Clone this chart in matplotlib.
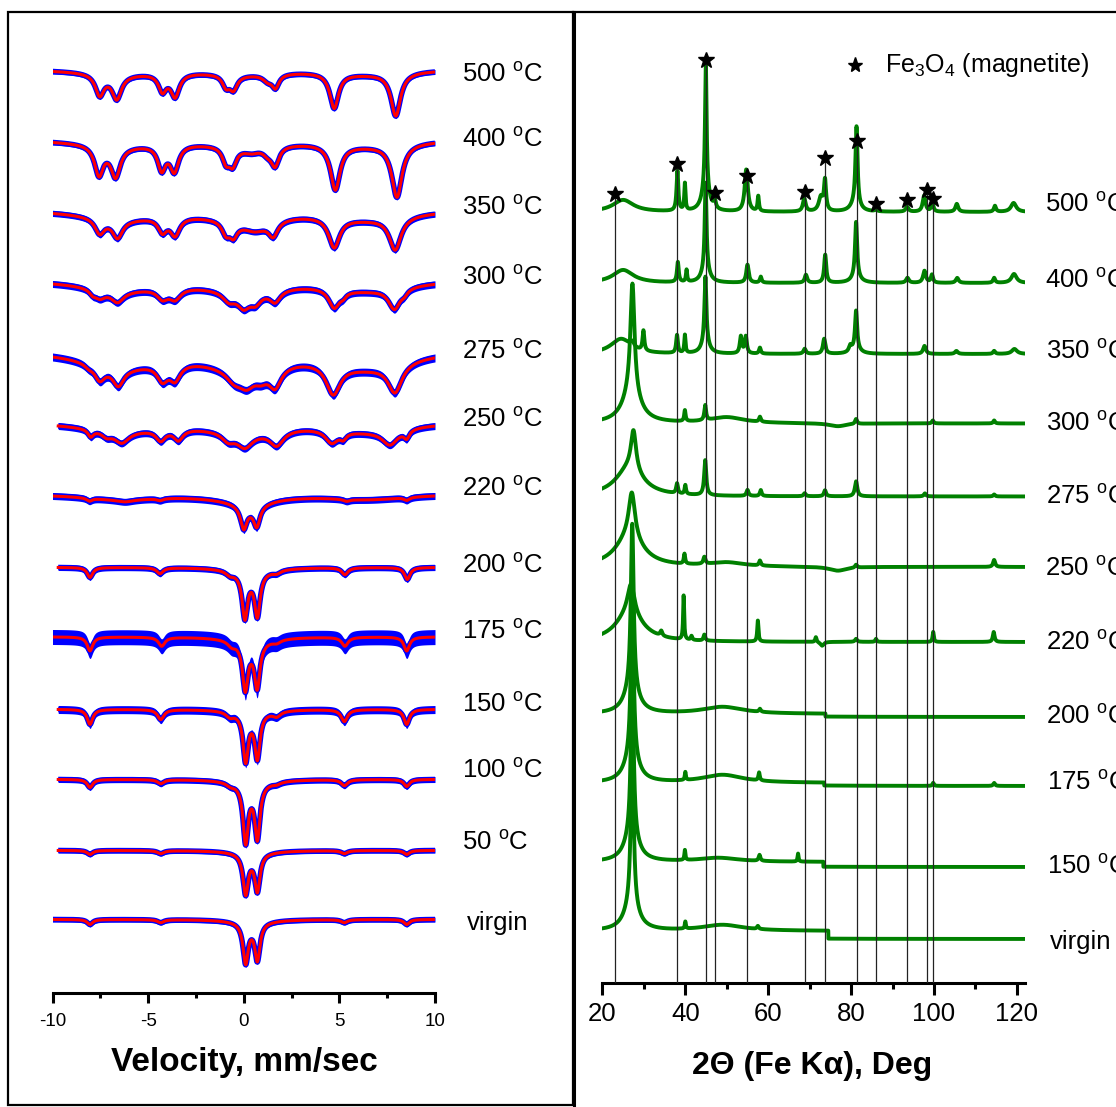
import numpy as np
import matplotlib
matplotlib.use('Agg')
import matplotlib.pyplot as plt
from matplotlib.lines import Line2D
from matplotlib.patches import Rectangle

plt.rcParams['font.family'] = ['Liberation Sans', 'DejaVu Sans']
plt.rcParams['mathtext.fontset'] = 'custom'
plt.rcParams['mathtext.rm'] = 'Liberation Sans'
plt.rcParams['mathtext.it'] = 'Liberation Sans:italic'
plt.rcParams['mathtext.bf'] = 'Liberation Sans:bold'

# ---------------- Mossbauer spectra (left) ----------------
# each line: (velocity mm/s, absorption depth, FWHM mm/s)
ms_500 = [(-7.53, 21, 0.55), (-6.64, 24, 0.6), (-4.25, 17, 0.5), (-3.59, 23, 0.55),
          (-0.93, 11, 0.45), (-0.54, 14, 0.5), (1.25, 6, 0.6), (1.66, 13, 0.45),
          (4.73, 35, 0.55), (7.95, 43, 0.6)]
ms_400 = [(-7.57, 29, 0.55), (-6.70, 30, 0.6), (-4.29, 24, 0.5), (-3.63, 26, 0.55),
          (-0.93, 14, 0.45), (-0.58, 17, 0.5), (0.4, 5, 1.0), (1.25, 6, 0.6),
          (1.64, 19, 0.5), (4.79, 45, 0.6), (8.01, 53, 0.65)]
ms_350 = [(-7.53, 15, 0.6), (-6.6, 18, 0.65), (-4.25, 14, 0.55), (-3.59, 18, 0.6),
          (-0.93, 12, 0.5), (-0.54, 13, 0.5), (0.6, 10, 1.6), (1.54, 15, 0.6),
          (4.73, 30, 0.7), (7.92, 33, 0.75)]
ms_300 = [(-7.9, 4, 0.4), (-7.53, 8, 0.7), (-6.6, 11, 0.8), (-4.25, 10, 0.7),
          (-3.59, 11, 0.75), (-0.77, 9, 0.8), (0.0, 14, 0.8), (0.62, 10, 0.7),
          (1.64, 12, 0.7), (4.73, 19, 0.7), (5.2, 4, 0.4), (7.88, 21, 0.75), (8.4, 4, 0.4)]
ms_275 = [(-8.1, 3, 0.5), (-7.53, 14, 0.65), (-6.56, 17, 0.7), (-4.25, 16, 0.7),
          (-3.59, 16, 0.7), (-0.5, 10, 1.0), (0.15, 14, 1.0), (0.9, 8, 0.8),
          (1.64, 20, 0.8), (4.68, 30, 0.9), (7.91, 29, 0.9)]
ms_250 = [(-8.0, 7, 0.35), (-7.17, 5, 0.6), (-6.38, 11, 0.9), (-4.34, 11, 0.6),
          (-3.42, 11, 0.6), (-0.81, 8, 0.8), (0.06, 14, 1.0), (1.72, 15, 0.9),
          (4.6, 13, 0.8), (5.2, 6, 0.4), (7.65, 15, 1.0), (8.52, 8, 0.35)]
ms_220 = [(-8.07, 3, 0.35), (-6.2, 2, 1.0), (-4.38, 2, 0.4), (0.0, 22, 0.4),
          (0.68, 20, 0.4), (0.35, 7, 2.0), (5.38, 2, 0.4), (8.52, 3, 0.35)]
ms_200 = [(-8.04, 10, 0.35), (-4.38, 6, 0.4), (-0.72, 4, 0.5), (0.06, 45, 0.35),
          (0.71, 43, 0.35), (0.38, 5, 2.5), (1.72, 3, 0.5), (5.29, 7, 0.4), (8.55, 12, 0.35)]
ms_175 = [(-8.04, 14, 0.35), (-4.29, 9, 0.4), (-0.63, 5, 0.5), (0.08, 47, 0.35),
          (0.7, 45, 0.35), (0.38, 5, 2.5), (1.72, 3, 0.5), (5.29, 9, 0.4), (8.52, 14, 0.35)]
ms_150 = [(-8.04, 15, 0.35), (-4.34, 10, 0.4), (-0.72, 5, 0.5), (0.1, 48, 0.33),
          (0.71, 45, 0.33), (0.4, 3, 2.5), (1.72, 5, 0.5), (5.26, 12, 0.4), (8.52, 15, 0.35)]
ms_100 = [(-8.04, 8, 0.35), (-4.34, 4, 0.4), (-0.7, 3, 0.5), (0.1, 58, 0.33),
          (0.71, 54, 0.33), (0.4, 4, 2.5), (1.72, 2, 0.5), (5.26, 6, 0.4), (8.52, 7, 0.35)]
ms_50 = [(-8.04, 4, 0.35), (-4.34, 3, 0.4), (0.1, 40, 0.33), (0.71, 37, 0.33),
         (0.4, 3, 2.5), (5.26, 3, 0.4), (8.52, 4, 0.35)]
ms_virgin = [(-8.04, 5, 0.35), (-4.34, 3, 0.4), (0.1, 40, 0.33), (0.71, 37, 0.33),
             (0.4, 3, 2.5), (5.26, 3, 0.4), (8.52, 5, 0.35)]
ms_broad_bg = [4, 5, 8, 9, 15, 8, 5, 0, 0, 0, 0, 0, 0]   # broad relaxation background depth
ms_v_start = [-10, -10, -10, -10, -10, -9.7, -10, -9.7, -10, -9.7, -9.7, -9.7, -10]
ms_labels = ['500 $^{\\rm o}$C', '400 $^{\\rm o}$C', '350 $^{\\rm o}$C', '300 $^{\\rm o}$C',
             '275 $^{\\rm o}$C', '250 $^{\\rm o}$C', '220 $^{\\rm o}$C', '200 $^{\\rm o}$C',
             '175 $^{\\rm o}$C', '150 $^{\\rm o}$C', '100 $^{\\rm o}$C', '50 $^{\\rm o}$C', 'virgin']
ms_ticks = [-10, -5, 0, 5, 10]

# ---------------- XRD patterns (right) ----------------
# each peak: (2theta deg, intensity, FWHM deg)
xrd_500 = [(25, 12, 6), (38.1, 40, 0.5), (39.9, 27, 0.35), (44.95, 123, 0.45), (44.9, 25, 2.0),
           (47.1, 8, 0.6), (54.7, 42, 0.9), (57.6, 15, 0.4), (68.7, 13, 0.8), (72.7, 14, 1.2),
           (73.7, 30, 0.6), (81.3, 78, 0.6), (81.0, 8, 2.5), (86.0, 2, 0.6), (93.5, 5, 0.8),
           (97.6, 16, 0.8), (99.6, 9, 0.6), (105.5, 8, 0.8), (114.7, 6, 0.6), (119.2, 9, 1.5)]
xrd_400 = [(25, 13, 6), (38.2, 20, 0.5), (40.3, 12, 0.35), (44.9, 85, 0.5), (44.9, 15, 2.0),
           (55.0, 18, 0.7), (58.2, 6, 0.5), (69.1, 8, 0.7), (73.75, 28, 0.6), (81.2, 55, 0.6),
           (81.2, 6, 2.5), (93.6, 5, 0.8), (97.7, 12, 0.8), (99.5, 8, 0.6), (105.6, 5, 0.8),
           (114.5, 5, 0.6), (119.3, 9, 1.5)]
xrd_350 = [(24.5, 15, 6), (27.2, 5, 1.0), (29.9, 20, 0.5), (38.0, 18, 0.5), (39.9, 18, 0.35),
           (44.85, 65, 0.55), (44.85, 12, 2.0), (53.4, 17, 0.6), (54.6, 17, 0.6), (58.0, 6, 0.5),
           (68.8, 5, 0.7), (73.5, 15, 0.7), (79.8, 6, 0.8), (81.2, 38, 0.6), (81.2, 5, 2.5),
           (97.7, 8, 0.8), (105.4, 3, 0.8), (114.5, 3, 0.6), (119.4, 5, 1.5)]
xrd_300 = [(27.25, 110, 1.2), (27.0, 30, 5.0), (39.9, 11, 0.4), (44.8, 15, 0.5), (50, 6, 10),
           (58.0, 5, 0.5), (76.8, -3, 5), (81.2, 5, 0.6), (99.7, 3, 0.5), (114.5, 3, 0.5)]
xrd_275 = [(27.5, 40, 1.5), (26.5, 28, 8), (38.0, 10, 0.5), (40.0, 9, 0.4), (44.8, 35, 0.6),
           (55.0, 6, 0.6), (58.2, 6, 0.5), (68.8, 3, 0.6), (73.7, 6, 0.6), (81.2, 15, 0.7),
           (97.8, 3, 0.6), (114.5, 2, 0.5)]
xrd_250 = [(27.1, 45, 1.8), (26.5, 30, 8), (39.8, 10, 0.4), (44.6, 7, 0.6), (50, 4, 10),
           (58.0, 5, 0.5), (76.8, -4, 5), (81.2, 3, 0.6), (114.5, 7, 0.6)]
xrd_220 = [(26.9, 30, 2.0), (26.5, 28, 8), (34.2, 5, 0.6), (39.6, 44, 0.3), (41.5, 4, 0.4),
           (44.6, 6, 0.5), (57.5, 21, 0.35), (71.5, 5, 0.4), (73.0, -4, 1.0), (81.2, 3, 0.6),
           (86.0, 3, 0.4), (99.8, 10, 0.35), (114.4, 10, 0.5)]
xrd_200 = [(27.2, 165, 0.8), (27.0, 25, 4), (49, 7, 12), (58, 3, 0.5)]
xrd_175 = [(27.2, 165, 0.8), (27.0, 25, 4), (40.0, 8, 0.3), (49, 8, 12), (57.8, 8, 0.4),
           (99.8, 3, 0.4), (114.5, 3, 0.5)]
xrd_150 = [(27.2, 165, 0.8), (27.0, 25, 4), (39.9, 10, 0.3), (48, 4, 12), (57.9, 6, 0.5),
           (67.2, 8, 0.3)]
xrd_virgin = [(27.2, 165, 0.8), (27.0, 25, 4), (40.0, 7, 0.3), (49, 6, 12), (57.5, 3, 0.5)]
# baseline steps (2theta, drop)
xrd_steps = [None, None, None, None, None, None, None, (73.8, 3), (73.5, 3), (73.3, 5), (74.5, 8)]
xrd_labels = ['500 $^{\\rm o}$C', '400 $^{\\rm o}$C', '350 $^{\\rm o}$C', '300 $^{\\rm o}$C',
              '275 $^{\\rm o}$C', '250 $^{\\rm o}$C', '220 $^{\\rm o}$C', '200 $^{\\rm o}$C',
              '175 $^{\\rm o}$C', '150 $^{\\rm o}$C', 'virgin']
xrd_ticks = [20, 40, 60, 80, 100, 120]

# magnetite reference reflections
mag_2theta = [23.0, 38.1, 45.0, 47.1, 54.9, 68.8, 73.6, 81.4, 86.0, 93.6, 98.2, 99.7]
mag_star_level = [194, 164.3, 60, 193.3, 175.7, 191.7, 158.3, 140.7, 204.3, 200, 190, 199]

# ---------------- layout (pixels) ----------------
W, H = 1116, 1107
fig = plt.figure(figsize=(W / 100, H / 100), dpi=100)


def fx(px):
    return px / W


def fy(py):
    return 1 - py / H


def lor(x, c, h, w):
    return h / (1 + ((x - c) / (w / 2.0)) ** 2)


LAX = (52.5, 435.0, 993.0, 20.0)
RAX = (602.4, 1025.2, 983.3, 20.0)

axL = fig.add_axes([fx(LAX[0]), fy(LAX[2]), (LAX[1] - LAX[0]) / W, (LAX[2] - LAX[3]) / H])
axL.set_xlim(-10, 10)
axL.set_ylim(LAX[2], LAX[3])
axR = fig.add_axes([fx(RAX[0]), fy(RAX[2]), (RAX[1] - RAX[0]) / W, (RAX[2] - RAX[3]) / H])
axR.set_xlim(20, 122)
axR.set_ylim(RAX[2], RAX[3])

for ax in (axL, axR):
    ax.patch.set_visible(False)
    for s in ('left', 'right', 'top'):
        ax.spines[s].set_visible(False)
    ax.spines['bottom'].set_linewidth(2.2)
    ax.set_yticks([])

# Mossbauer
ms_sets = [ms_500, ms_400, ms_350, ms_300, ms_275, ms_250, ms_220, ms_200, ms_175,
           ms_150, ms_100, ms_50, ms_virgin]
ms_offsets = [71.5, 142.5, 213.5, 284, 357, 426, 496, 567.5, 637, 709.5, 779.5, 850.5, 919.5]
ms_band = [5, 5, 6, 7, 8, 7, 7, 6, 15, 8, 6, 5, 5]
ms_label_y = [75, 140, 208.3, 278.3, 351.7, 420, 489, 566, 632, 705, 771, 843, 923]

for lines, bg, v0, off, band in zip(ms_sets, ms_broad_bg, ms_v_start, ms_offsets, ms_band):
    v = np.linspace(v0, 10, 3000)
    allc = list(lines) + [(-6.5, bg, 5), (0, bg, 5), (6.5, bg, 5)]
    prof = sum(lor(v, c, h, w) for c, h, w in allc)
    prof0 = sum(lor(v0, c, h, w) for c, h, w in allc)
    y = off + prof - prof0
    axL.fill_between(v, y - band / 2, y + band / 2, color='#0000ff', lw=0, zorder=2)
    axL.plot(v, y, color='#0000ff', lw=4.0, solid_capstyle='butt', zorder=2)
    axL.plot(v, y, color='#ff0000', lw=2.2, zorder=3)

for lab, yy in zip(ms_labels, ms_label_y):
    xx = 467 if lab == 'virgin' else 461.5
    fig.text(fx(xx), fy(yy), lab, fontsize=18.5, va='center', ha='left')

axL.set_xticks(ms_ticks)
axL.set_xticks([-7.5, -2.5, 2.5, 7.5], minor=True)
axL.set_xticklabels([str(t) for t in ms_ticks])
axL.tick_params(axis='x', which='major', length=7.5, width=2.2, direction='out',
                labelsize=13.5, pad=7)
axL.tick_params(axis='x', which='minor', length=3.8, width=2.2, direction='out')

# XRD
xrd_sets = [xrd_500, xrd_400, xrd_350, xrd_300, xrd_275, xrd_250, xrd_220, xrd_200,
            xrd_175, xrd_150, xrd_virgin]
xrd_base = [212, 283, 354, 423.5, 496.5, 567, 642, 714, 783, 862, 931]
xrd_label_y = [205, 281, 351.7, 423.3, 496.7, 568.3, 643.3, 716.7, 783.3, 866.7, 941.7]
xrd_label_x = [1045, 1045, 1046, 1046, 1046, 1045, 1046, 1046, 1047, 1047, 1050]

tt = np.linspace(20, 122, 6000)
for peaks, base, step in zip(xrd_sets, xrd_base, xrd_steps):
    prof = sum(lor(tt, c, h, w) for c, h, w in peaks)
    y = base - prof
    if step is not None:
        y = y + np.where(tt > step[0], step[1], 0)
    axR.plot(tt, y, color='#008000', lw=2.8, zorder=2)

for lab, yy, xx in zip(xrd_labels, xrd_label_y, xrd_label_x):
    fig.text(fx(xx), fy(yy), lab, fontsize=18.5, va='center', ha='left')

axR.vlines(mag_2theta, mag_star_level, RAX[2], color='#222222', lw=0.9, zorder=3)
axR.plot(mag_2theta, mag_star_level, linestyle='none', marker='*', color='k', ms=12, zorder=4,
         clip_on=False)

axR.set_xticks(xrd_ticks)
axR.set_xticks([30, 50, 70, 90, 110], minor=True)
axR.set_xticklabels([str(t) for t in xrd_ticks])
axR.tick_params(axis='x', which='major', length=8.6, width=2.2, direction='out',
                labelsize=18.5, pad=5)
axR.tick_params(axis='x', which='minor', length=4.5, width=2.2, direction='out')

# legend
fig.add_artist(Line2D([fx(855)], [fy(65)], marker='*', color='k', ms=11, linestyle='none',
                      transform=fig.transFigure))
fig.text(fx(885), fy(65), 'Fe$_3$O$_4$ (magnetite)', fontsize=18, va='center', ha='left')

# axis titles
fig.text(fx(244.5), fy(1063), 'Velocity, mm/sec', fontsize=24, fontweight='bold',
         ha='center', va='center')
fig.text(fx(812.5), fy(1066), '2\u0398 (Fe K\u03b1), Deg', fontsize=23, fontweight='bold',
         ha='center', va='center')

# panel frames
fig.add_artist(Rectangle((fx(7.5), fy(1105)), fx(573) - fx(7.5), fy(12) - fy(1105),
                         fill=False, lw=1.6, edgecolor='k', transform=fig.transFigure))
fig.add_artist(Line2D([fx(573), 1.0], [fy(12), fy(12)], color='k', lw=1.6,
                      transform=fig.transFigure))
fig.add_artist(Line2D([fx(573.5), fx(573.5)], [fy(12), 0.0], color='k', lw=2.2,
                      transform=fig.transFigure))

fig.savefig('out.png', dpi=100)
